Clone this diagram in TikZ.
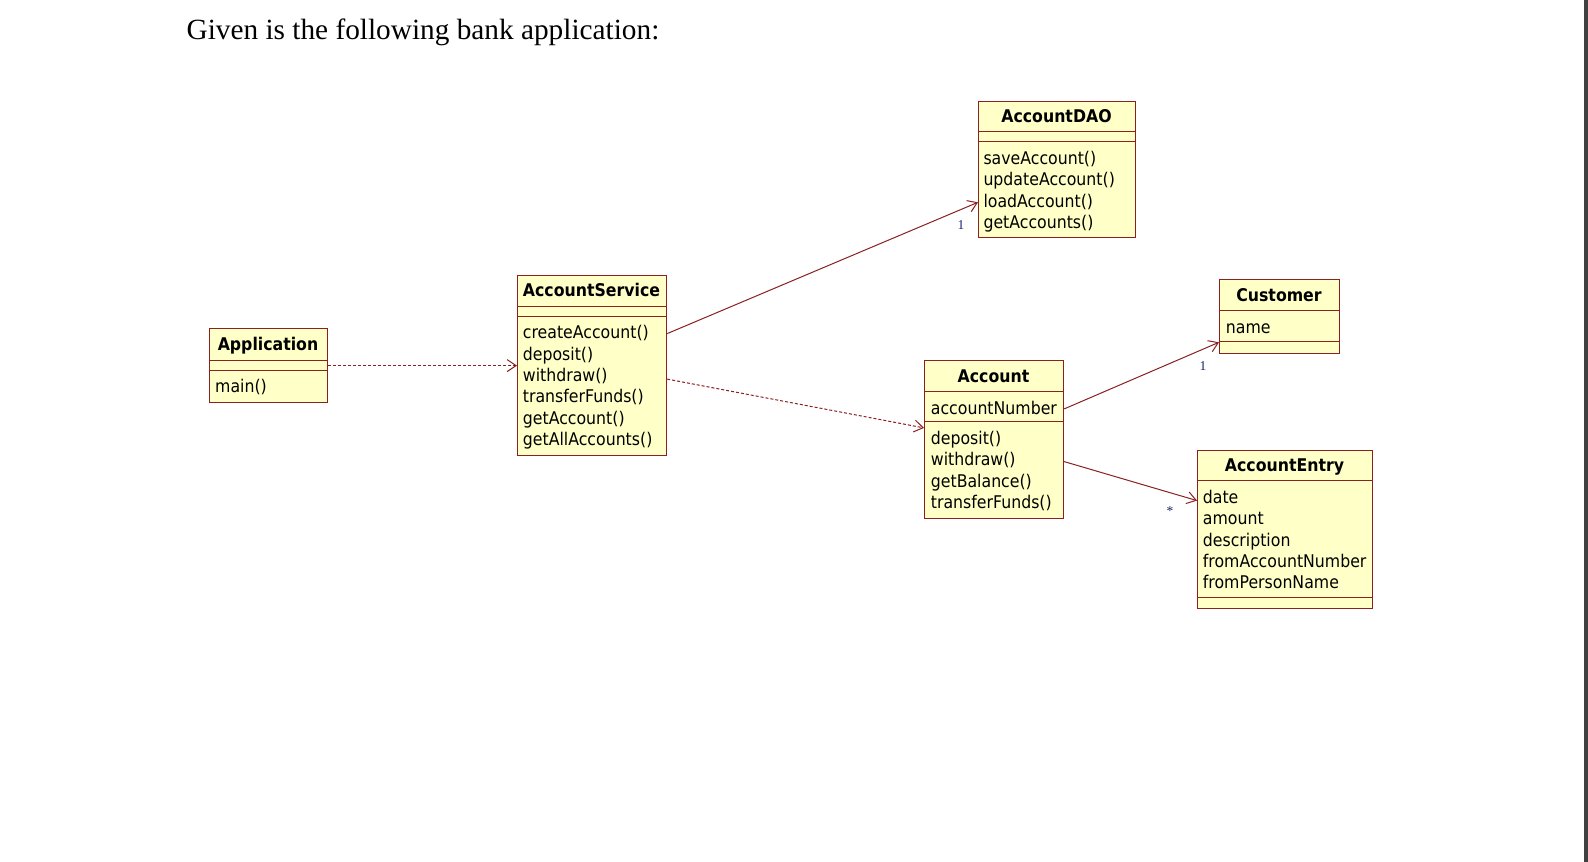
\documentclass[tikz,border=0pt]{standalone}
\usepackage{fontspec}
\setmainfont{Liberation Serif}
\setsansfont[FakeStretch=0.9]{DejaVu Sans}
\usepackage{xcolor}
\usepackage{tikz}
\usetikzlibrary{positioning,arrows.meta}
\definecolor{umlMaroon}{HTML}{8B2020}
\definecolor{umlFill}{HTML}{FFFFC8}
\definecolor{umlNavy}{HTML}{1A2070}

\tikzset{
  classbox/.style={rectangle, draw=umlMaroon, fill=umlFill, line width=1.2pt, anchor=north west, inner sep=0pt},
  classname/.style={font=\sffamily\bfseries\fontsize{17.5}{21}\selectfont, text height=12.8pt, text depth=0pt, inner sep=0pt},
  members/.style={font=\sffamily\fontsize{17.5}{21.3}\selectfont, anchor=north west, align=left, inner xsep=0pt, inner ysep=7.8pt},
  sepline/.style={draw=umlMaroon, line width=1pt},
  assoc/.style={->, umlMaroon, line width=1pt},
  depend/.style={->, umlMaroon, line width=1pt, dash pattern=on 3pt off 2pt},
  mult/.style={font=\fontsize{13.5}{15}\selectfont, text=umlNavy, inner sep=0pt}
}

\begin{document}
\begin{tikzpicture}[x=1pt, y=-1pt, >={Straight Barb[length=9pt,width=12pt]}]
\useasboundingbox (0,0) rectangle (1588,862);
\fill[white] (0,0) rectangle (1588,862);
\fill[black!75] (1584,0) rectangle (1588,862);

\node[anchor=base west, inner sep=0pt, font=\fontsize{29.3}{34}\selectfont] (heading) at (186.4,39.3) {Given is the following bank application:};

% classes
\node[classbox, minimum width=118pt, minimum height=74pt] (app) at (209,328) {};
\node[classname] (appname) at (268,344) {Application};
\draw[sepline] (209,360) -- (327,360) (209,370) -- (327,370);
\node[members] (appops) at (215,370) {\strut main()};

\node[classbox, minimum width=149pt, minimum height=180pt] (svc) at (517,275) {};
\node[classname] (svcname) at (591.5,290.5) {AccountService};
\draw[sepline] (517,306) -- (666,306) (517,316) -- (666,316);
\node[members] (svcops) at (522.7,316) {\strut createAccount()\\ \strut deposit()\\ \strut withdraw()\\ \strut transferFunds()\\ \strut getAccount()\\ \strut getAllAccounts()};

\node[classbox, minimum width=157pt, minimum height=136pt] (dao) at (978,101) {};
\node[classname] (daoname) at (1056.5,116) {AccountDAO};
\draw[sepline] (978,131.7) -- (1135,131.7) (978,141.7) -- (1135,141.7);
\node[members] (daoops) at (983.3,141.7) {\strut saveAccount()\\ \strut updateAccount()\\ \strut loadAccount()\\ \strut getAccounts()};

\node[classbox, minimum width=139pt, minimum height=158pt] (acc) at (924,360) {};
\node[classname] (accname) at (993.5,376) {Account};
\draw[sepline] (924,391.7) -- (1063,391.7) (924,421.7) -- (1063,421.7);
\node[members] (accattr) at (930.7,391.7) {\strut accountNumber};
\node[members] (accops) at (930.7,421.7) {\strut deposit()\\ \strut withdraw()\\ \strut getBalance()\\ \strut transferFunds()};

\node[classbox, minimum width=120pt, minimum height=74pt] (cust) at (1219,279) {};
\node[classname] (custname) at (1279,295) {Customer};
\draw[sepline] (1219,310.7) -- (1339,310.7) (1219,341.7) -- (1339,341.7);
\node[members] (custattr) at (1225.7,310.7) {\strut name};

\node[classbox, minimum width=175pt, minimum height=158pt] (entry) at (1197,450) {};
\node[classname] (entryname) at (1284.5,465.3) {AccountEntry};
\draw[sepline] (1197,480.7) -- (1372,480.7) (1197,597.3) -- (1372,597.3);
\node[members] (entryattr) at (1202.7,480.7) {\strut date\\ \strut amount\\ \strut description\\ \strut fromAccountNumber\\ \strut fromPersonName};

% relations
\draw[depend] (app) -- (svc);
\draw[assoc] ([yshift=32pt]svc.east) -- ([yshift=-32.7pt]dao.west) node[mult, at end, xshift=-17pt, yshift=-23pt] {1};
\draw[depend] ([yshift=-13.5pt]svc.east) -- ([yshift=11.7pt]acc.west);
\draw[assoc] ([yshift=30.7pt]acc.east) -- ([yshift=-25.7pt]cust.west) node[mult, at end, xshift=-16pt, yshift=-24pt] {1};
\draw[assoc] ([yshift=-22pt]acc.east) -- ([yshift=29pt]entry.west) node[mult, at end, xshift=-27pt, yshift=-10pt] {*};
\end{tikzpicture}
\end{document}
